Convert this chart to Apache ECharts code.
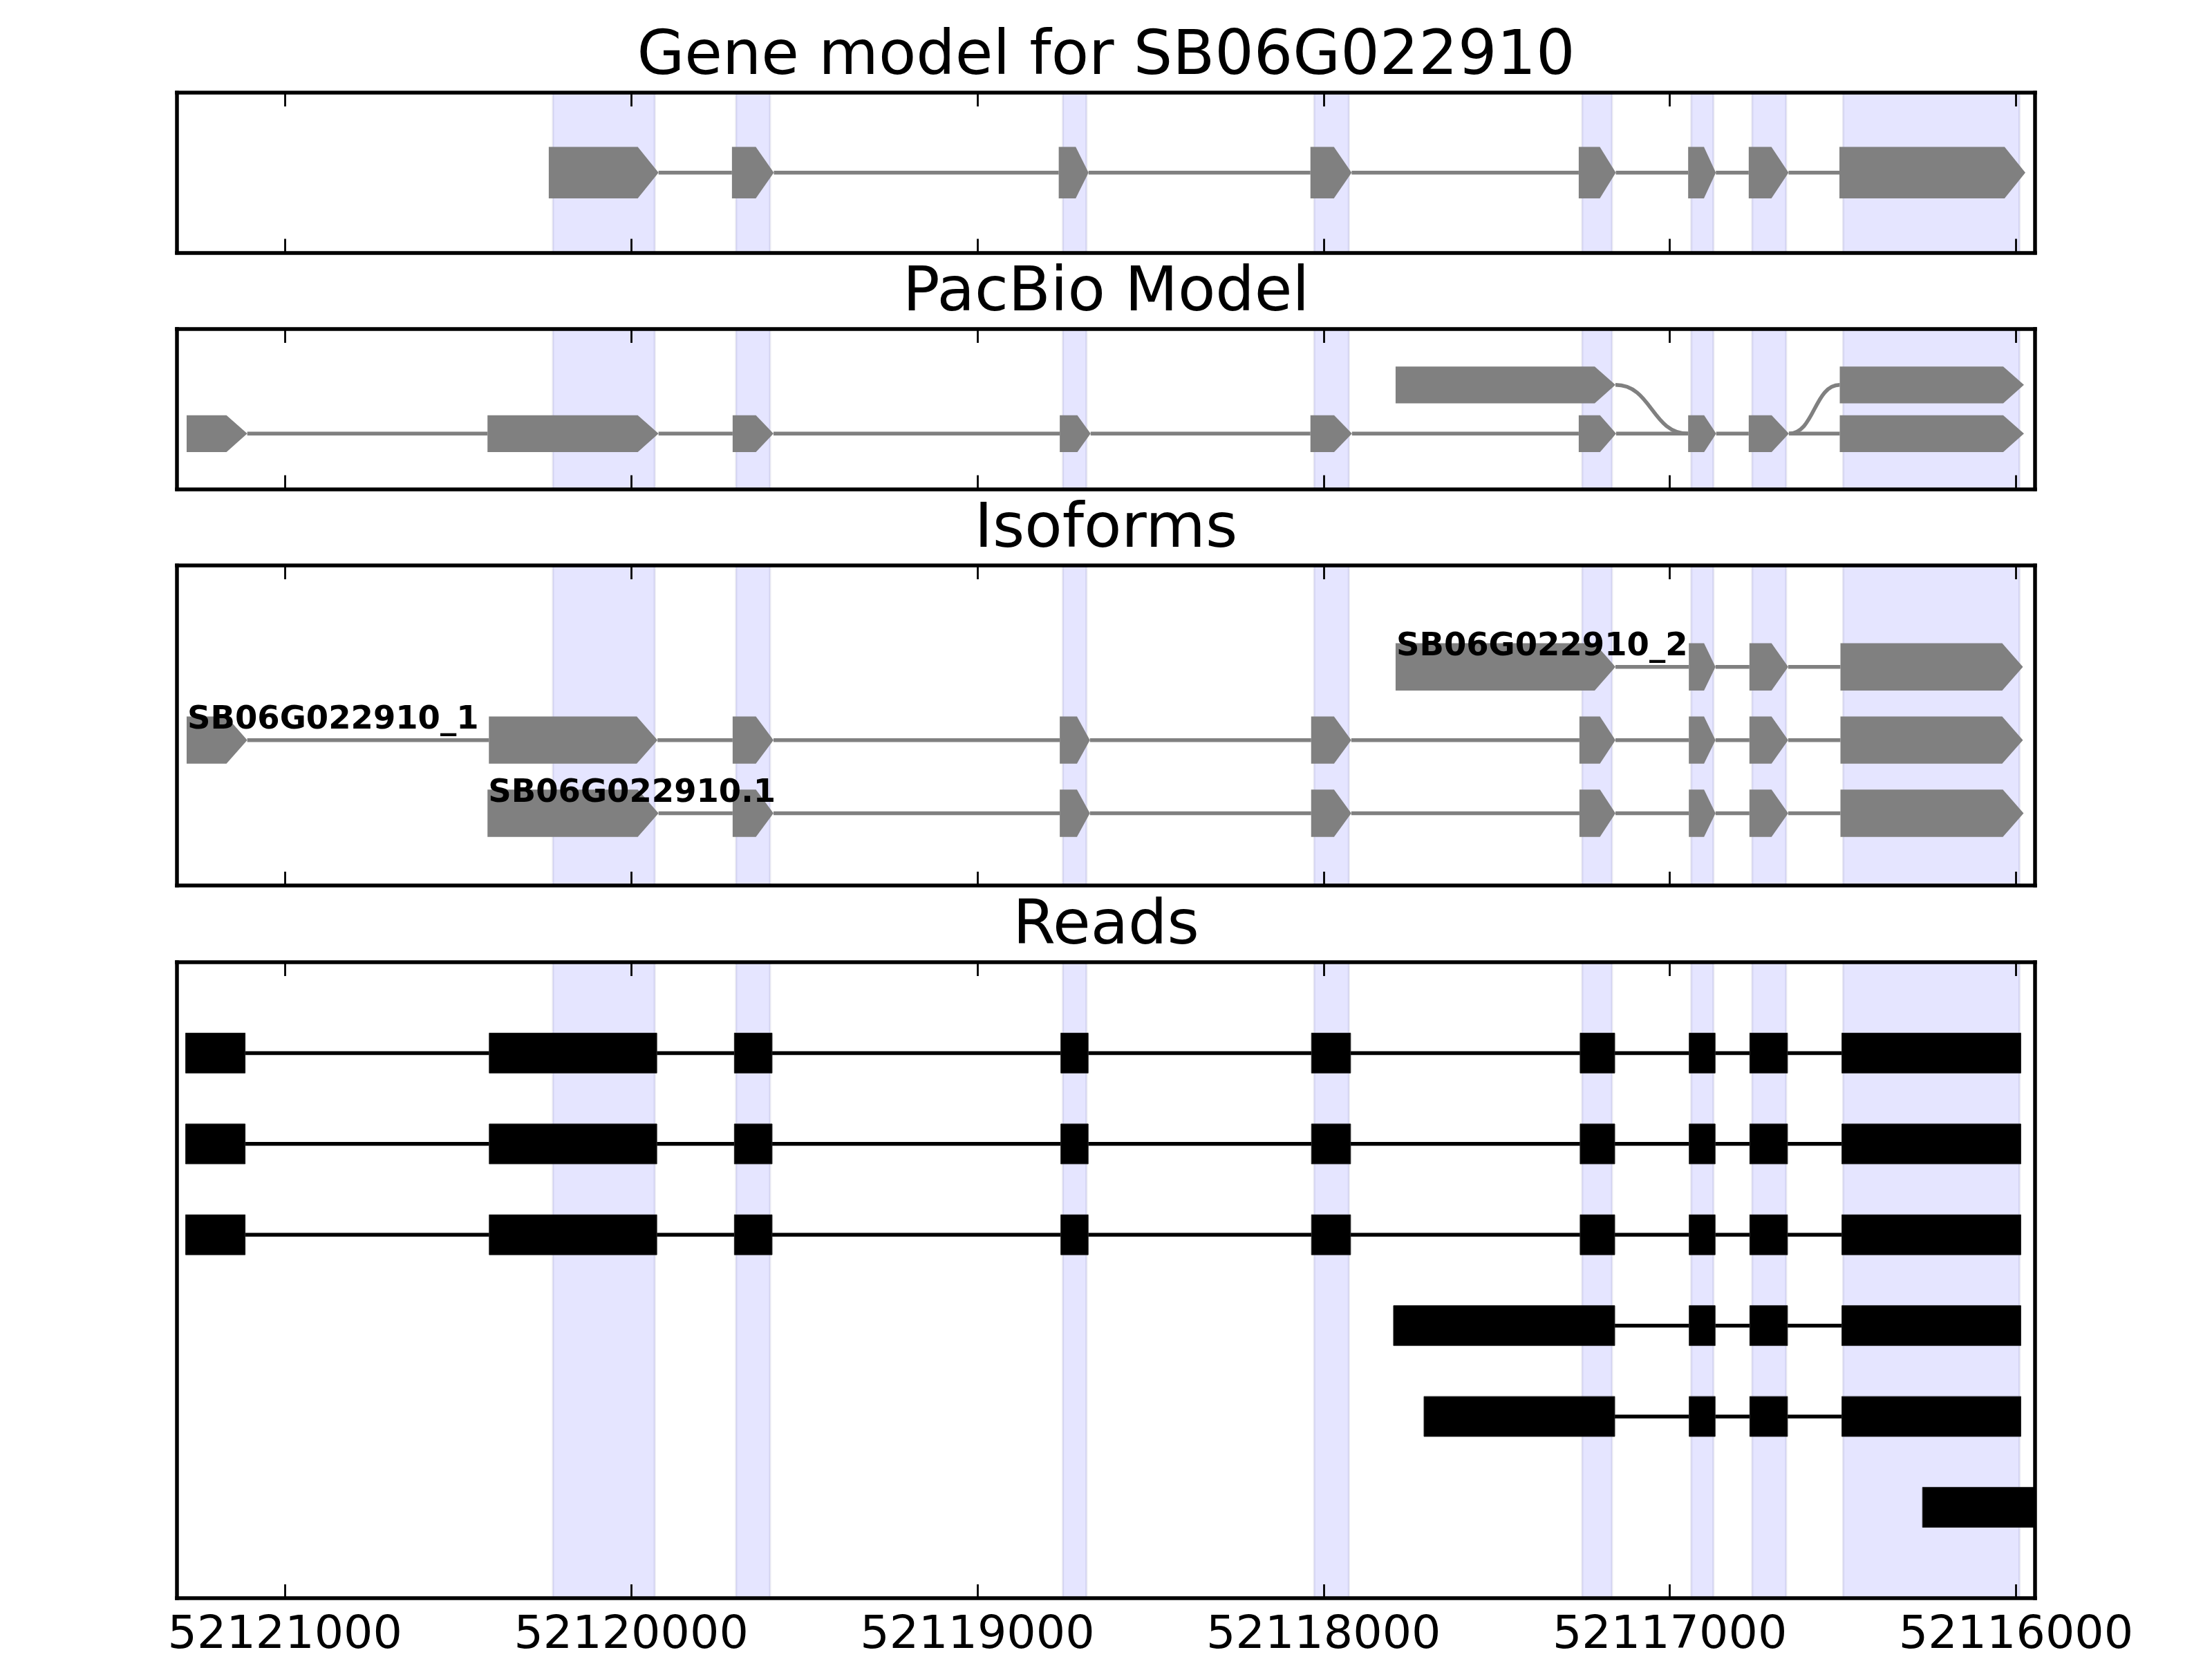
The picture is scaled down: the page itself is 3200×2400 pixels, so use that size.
<!DOCTYPE html>
<html>
<head>
<meta charset="utf-8">
<title>Gene model for SB06G022910</title>
<script src="https://cdn.jsdelivr.net/npm/echarts@6.0.0/dist/echarts.min.js"></script>
<style>
  html, body { margin: 0; padding: 0; background: #fff; }
  #chart { width: 3200px; height: 2400px; }
</style>
</head>
<body>
<div id="chart"></div>
<script>
// genomic window (axis runs right to left, minus strand)
var xMin = 52115945, xMax = 52121312;
var tickValues = [52121000, 52120000, 52119000, 52118000, 52117000, 52116000];
var titles = ['Gene model for SB06G022910', 'PacBio Model', 'Isoforms', 'Reads'];

// exons of the gene model, shaded in every panel
var shadeRegions = [
    [52120226, 52119932], [52119697, 52119599], [52118753, 52118685], [52118027, 52117927],
    [52117253, 52117167], [52116938, 52116874], [52116762, 52116664], [52116499, 52115990]
];

// panel 1: gene model
var geneModel = [
    [52120238, 52119921], [52119709, 52119588], [52118765, 52118679], [52118038, 52117919],
    [52117263, 52117156], [52116947, 52116867], [52116772, 52116657], [52116510, 52115973]
];

// panel 2: PacBio model (lower row = row 0, upper row = row 1)
var pacbioLower = [
    [52121284, 52121109], [52120415, 52119921], [52119707, 52119589], [52118762, 52118673],
    [52118038, 52117918], [52117263, 52117155], [52116947, 52116866], [52116772, 52116656],
    [52116509, 52115977]
];
var pacbioUpper = [[52117792, 52117157], [52116509, 52115977]];
// junctions between the rows: [from, fromRow, to, toRow]
var pacbioSwitch = [[52117157, 1, 52116947, 0], [52116656, 0, 52116509, 1]];

// panel 3: isoforms, top to bottom
var isoNames = ['SB06G022910_2', 'SB06G022910_1', 'SB06G022910.1'];
var isoform2 = [[52117792, 52117157], [52116945, 52116868], [52116770, 52116658], [52116507, 52115980]];
var isoform1 = [
    [52121284, 52121109], [52120411, 52119924], [52119707, 52119589], [52118762, 52118675],
    [52118036, 52117920], [52117261, 52117157], [52116945, 52116868], [52116770, 52116658],
    [52116507, 52115980]
];
var isoform1b = [
    [52120415, 52119921], [52119707, 52119589], [52118762, 52118675], [52118036, 52117920],
    [52117261, 52117157], [52116945, 52116868], [52116770, 52116658], [52116507, 52115978]
];

// panel 4: reads, top to bottom
var read1 = [
    [52121287, 52121115], [52120410, 52119926], [52119702, 52119593], [52118759, 52118680],
    [52118035, 52117922], [52117259, 52117159], [52116944, 52116869], [52116769, 52116660],
    [52116503, 52115986]
];
var read2 = read1.slice();
var read3 = read1.slice();
var read4 = [[52117798, 52117159], [52116944, 52116869], [52116769, 52116660], [52116503, 52115986]];
var read5 = [[52117710, 52117159], [52116944, 52116869], [52116769, 52116660], [52116503, 52115986]];
var read6 = [[52116270, 52115800]];

var GRAY = '#808080';
var LW = 5.5;

// panel layout
var panels = [
    { top: 134, height: 231.5, yMin: -1, yMax: 1, half: 0.3215 },
    { top: 476, height: 231.5, yMin: -1.136, yMax: 2.146, half: 0.378 },
    { top: 818, height: 463, yMin: -0.986, yMax: 3.385, half: 0.323 },
    { top: 1392, height: 922, yMin: -1, yMax: 6, half: 0.22 }
];

// helpers: rows of exons -> series data
function exonData(rows) {
    var out = [];
    rows.forEach(function (r) {
        r.exons.forEach(function (e) { out.push([e[0], e[1], r.row]); });
    });
    return out;
}
function intronData(rows) {
    var out = [];
    rows.forEach(function (r) {
        for (var i = 1; i < r.exons.length; i++) {
            out.push([r.exons[i - 1][1], r.exons[i][0], r.row]);
        }
    });
    return out;
}

function shadeItem(params, api) {
    var cs = params.coordSys;
    var x0 = api.coord([api.value(0), 0])[0];
    var x1 = api.coord([api.value(1), 0])[0];
    return {
        type: 'rect',
        shape: { x: x0, y: cs.y, width: x1 - x0, height: cs.height },
        style: { fill: 'rgba(0,0,255,0.1)', stroke: 'rgba(40,40,120,0.10)', lineWidth: 3 }
    };
}

function arrowItem(half) {
    return function (params, api) {
        var s = api.value(0), e = api.value(1), r = api.value(2);
        var head = Math.min(60, 0.43 * (s - e));
        var x0 = api.coord([s, r])[0];
        var x1 = api.coord([e, r])[0];
        var xh = api.coord([e + head, r])[0];
        var yc = api.coord([s, r])[1];
        var yt = api.coord([s, r + half])[1];
        var yb = api.coord([s, r - half])[1];
        return {
            type: 'polygon',
            shape: { points: [[x0, yt], [xh, yt], [x1, yc], [xh, yb], [x0, yb]] },
            style: { fill: GRAY }
        };
    };
}

function rectItem(half) {
    return function (params, api) {
        var r = api.value(2);
        var p0 = api.coord([api.value(0), r + half]);
        var p1 = api.coord([api.value(1), r - half]);
        return {
            type: 'rect',
            shape: { x: p0[0], y: p0[1], width: p1[0] - p0[0], height: p1[1] - p0[1] },
            style: { fill: '#000', stroke: '#222', lineWidth: 1 }
        };
    };
}

function lineItem(color) {
    return function (params, api) {
        var p0 = api.coord([api.value(0), api.value(2)]);
        var p1 = api.coord([api.value(1), api.value(2)]);
        return {
            type: 'line',
            shape: { x1: p0[0], y1: p0[1], x2: p1[0], y2: p1[1] },
            style: { stroke: color, lineWidth: LW }
        };
    };
}

function curveItem(params, api) {
    var p0 = api.coord([api.value(0), api.value(1)]);
    var p1 = api.coord([api.value(2), api.value(3)]);
    var mx = (p0[0] + p1[0]) / 2;
    return {
        type: 'bezierCurve',
        shape: { x1: p0[0], y1: p0[1], x2: p1[0], y2: p1[1], cpx1: mx, cpy1: p0[1], cpx2: mx, cpy2: p1[1] },
        style: { stroke: GRAY, lineWidth: LW, fill: null }
    };
}

function labelItem(params, api) {
    var p = api.coord([api.value(0), api.value(1)]);
    return {
        type: 'text',
        x: p[0] + 1,
        y: p[1] - 29,
        style: {
            text: isoNames[params.dataIndex],
            fill: '#000',
            font: 'bold 46.5px "DejaVu Sans"',
            align: 'left',
            verticalAlign: 'middle'
        }
    };
}

// axes
var grid = [], xAxis = [], yAxis = [], title = [];
panels.forEach(function (p, i) {
    grid.push({ left: 256, width: 2688, top: p.top, height: p.height });
    title.push({
        text: titles[i], left: 'center', top: p.top - 95, padding: 0,
        textStyle: { fontSize: 88.9, fontWeight: 'normal', color: '#000', fontFamily: 'DejaVu Sans' }
    });
    ['bottom', 'top'].forEach(function (pos) {
        xAxis.push({
            gridIndex: i, type: 'value', position: pos, min: xMin, max: xMax, inverse: true, z: 10,
            axisLine: { show: true, onZero: false, lineStyle: { color: '#000', width: LW, cap: 'square' } },
            axisTick: { show: true, inside: true, length: 20, customValues: tickValues,
                        lineStyle: { color: '#000', width: 2.8 } },
            axisLabel: { show: i === 3 && pos === 'bottom', customValues: tickValues, margin: 21,
                         fontSize: 66.7, color: '#000', fontFamily: 'DejaVu Sans',
                         formatter: function (v) { return String(v); } },
            splitLine: { show: false }
        });
    });
    ['left', 'right'].forEach(function (pos) {
        yAxis.push({
            gridIndex: i, type: 'value', position: pos, min: p.yMin, max: p.yMax, z: 10,
            axisLine: { show: true, onZero: false, lineStyle: { color: '#000', width: LW, cap: 'square' } },
            axisTick: { show: false }, axisLabel: { show: false }, splitLine: { show: false }
        });
    });
});

var series = [];
function add(i, render, data, z, encode) {
    series.push({
        type: 'custom', xAxisIndex: i * 2, yAxisIndex: i * 2, renderItem: render,
        data: data, z: z, clip: true, silent: true, encode: encode || { x: [0, 1], y: 2 }
    });
}

// shading in all panels
panels.forEach(function (p, i) { add(i, shadeItem, shadeRegions, 1, { x: [0, 1] }); });

// panel 1
var geneRows = [{ row: 0, exons: geneModel }];
add(0, lineItem(GRAY), intronData(geneRows), 2);
add(0, arrowItem(panels[0].half), exonData(geneRows), 3);

// panel 2
add(1, lineItem(GRAY), intronData([{ row: 0, exons: pacbioLower }]), 2);
add(1, curveItem, pacbioSwitch, 2, { x: [0, 2], y: [1, 3] });
add(1, arrowItem(panels[1].half), exonData([{ row: 0, exons: pacbioLower }, { row: 1, exons: pacbioUpper }]), 3);

// panel 3
var isoRows = [{ row: 2, exons: isoform2 }, { row: 1, exons: isoform1 }, { row: 0, exons: isoform1b }];
add(2, lineItem(GRAY), intronData(isoRows), 2);
add(2, arrowItem(panels[2].half), exonData(isoRows), 3);
add(2, labelItem, isoRows.map(function (r) { return [r.exons[0][0], r.row]; }), 4, { x: 0, y: 1 });

// panel 4
var readRows = [read1, read2, read3, read4, read5, read6].map(function (ex, k) {
    return { row: 5 - k, exons: ex };
});
add(3, lineItem('#000'), intronData(readRows), 2);
add(3, rectItem(panels[3].half), exonData(readRows), 3);

var myChart = echarts.init(document.getElementById('chart'), null, { renderer: 'canvas' });
myChart.setOption({
    animation: false,
    backgroundColor: '#fff',
    title: title,
    grid: grid,
    xAxis: xAxis,
    yAxis: yAxis,
    series: series
});
</script>
</body>
</html>
